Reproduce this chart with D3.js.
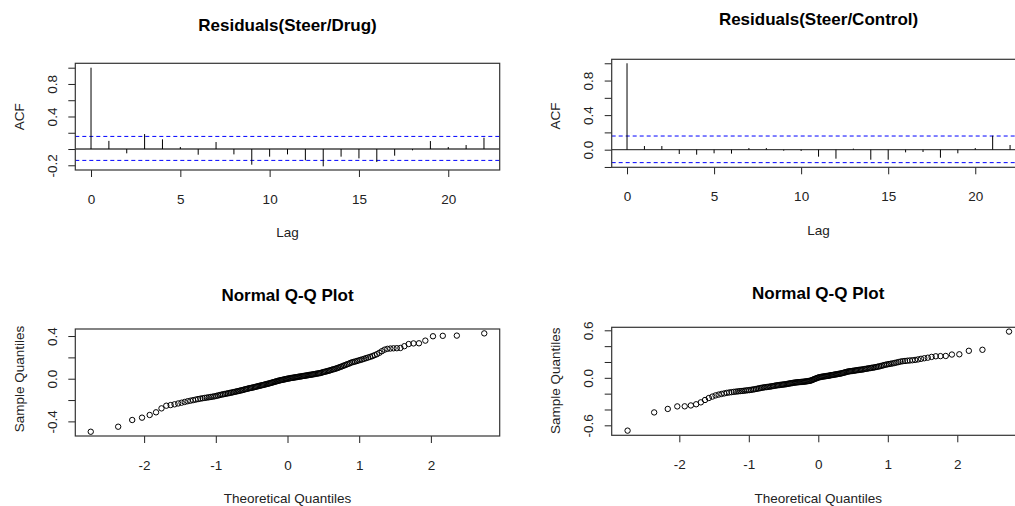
<!DOCTYPE html>
<html>
<head>
<meta charset="utf-8">
<script src="https://cdn.jsdelivr.net/npm/d3@7"></script>
<style>
  body { margin: 0; background: #fff; }
  svg { display: block; font-family: "Liberation Sans", Arial, sans-serif; }
</style>
</head>
<body>
<div id="canvas"></div>
<script>
// ACF values by lag (lag = index)
var acfDrug = [1.0, 0.10, -0.053, 0.184, 0.119, 0.025, -0.07, 0.086, -0.066, -0.193, -0.094, -0.066,
  -0.139, -0.213, -0.094, -0.115, -0.16, -0.082, -0.016, 0.098, 0.025, 0.049, 0.139]
var acfControl = [1.0, 0.042, 0.042, -0.05, -0.058, -0.042, -0.046, 0.019, 0.019, -0.012, -0.015, -0.081,
  -0.104, 0.012, -0.116, -0.116, -0.031, -0.027, -0.093, -0.042, 0.019, 0.162, 0.054]
var ciDrug = [0.155, -0.14]
var ciControl = [0.158, -0.15]

// sorted residuals (sample quantiles)
var qqDrug = [-0.497,-0.45,-0.387,-0.365,-0.34,-0.315,-0.278,-0.253,-0.247,-0.240,
  -0.232,-0.225,-0.218,-0.211,-0.206,-0.201,-0.196,-0.191,-0.187,-0.183,
  -0.180,-0.177,-0.174,-0.171,-0.168,-0.165,-0.161,-0.157,-0.153,-0.149,
  -0.146,-0.143,-0.140,-0.137,-0.134,-0.131,-0.128,-0.125,-0.122,-0.119,
  -0.116,-0.113,-0.110,-0.107,-0.104,-0.100,-0.097,-0.094,-0.091,-0.088,
  -0.086,-0.083,-0.081,-0.078,-0.075,-0.072,-0.069,-0.067,-0.064,-0.061,
  -0.059,-0.056,-0.053,-0.050,-0.048,-0.045,-0.042,-0.039,-0.036,-0.033,
  -0.030,-0.027,-0.024,-0.021,-0.018,-0.016,-0.013,-0.011,-0.009,-0.007,
  -0.004,-0.002,0.000,
  0.002,0.004,0.006,0.008,0.009,0.011,0.013,0.014,0.016,0.018,
  0.020,0.021,0.023,0.025,0.027,0.028,0.030,0.032,0.034,0.036,
  0.037,0.039,0.041,0.043,0.045,0.047,0.049,0.051,0.053,0.056,
  0.060,0.063,0.066,0.069,0.072,0.075,0.079,0.083,0.087,0.090,
  0.094,0.098,0.103,0.108,0.113,0.118,0.124,0.129,0.135,0.140,
  0.147,0.153,0.157,0.161,0.166,0.171,0.176,0.181,0.187,0.193,
  0.199,0.205,0.212,0.221,0.230,0.243,0.258,0.272,0.280,0.283,
  0.285,0.286,0.288,0.305,0.325,0.331,0.332,0.357,0.398,0.402,
  0.404,0.425]
var qqControl = [-0.667,-0.437,-0.393,-0.361,-0.360,-0.349,-0.334,-0.310,-0.280,-0.255,
  -0.237,-0.222,-0.212,-0.204,-0.197,-0.190,-0.185,-0.181,-0.177,-0.174,
  -0.171,-0.168,-0.166,-0.163,-0.160,-0.157,-0.155,-0.152,-0.148,-0.145,
  -0.141,-0.137,-0.133,-0.129,-0.125,-0.122,-0.119,-0.117,-0.115,-0.112,
  -0.110,-0.107,-0.104,-0.101,-0.098,-0.095,-0.093,-0.091,-0.089,-0.087,
  -0.085,-0.083,-0.081,-0.079,-0.076,-0.073,-0.070,-0.068,-0.066,-0.063,
  -0.061,-0.059,-0.057,-0.056,-0.055,-0.053,-0.052,-0.051,-0.050,-0.048,
  -0.046,-0.044,-0.042,-0.040,-0.038,-0.034,-0.029,-0.023,-0.017,-0.012,
  -0.007,-0.002,0.004,
  0.007,0.010,0.012,0.015,0.017,0.019,0.021,0.023,0.025,0.027,
  0.030,0.033,0.035,0.037,0.040,0.042,0.045,0.047,0.050,0.052,
  0.055,0.058,0.062,0.066,0.070,0.074,0.078,0.081,0.083,0.085,
  0.087,0.089,0.091,0.094,0.097,0.099,0.101,0.103,0.105,0.108,
  0.111,0.114,0.117,0.120,0.123,0.126,0.129,0.132,0.136,0.140,
  0.144,0.149,0.154,0.160,0.165,0.170,0.174,0.178,0.182,0.187,
  0.193,0.199,0.205,0.210,0.213,0.216,0.219,0.222,0.226,0.232,
  0.240,0.247,0.254,0.264,0.272,0.274,0.276,0.294,0.297,0.341,
  0.354,0.584]

// tick labels
var lagTicks = [0, 5, 10, 15, 20]
var qqXTicks = [-2, -1, 0, 1, 2]
var acfYTicks = [-0.2, 0, 0.2, 0.4, 0.6, 0.8, 1.0]
var acfDrugLabels = [-0.2, 0.4, 0.8]
var acfControlLabels = [0, 0.4, 0.8]
var qqDrugYTicks = [-0.4, -0.2, 0, 0.2, 0.4]
var qqDrugLabels = [-0.4, 0, 0.4]
var qqControlYTicks = [-0.6, -0.4, -0.2, 0, 0.2, 0.4, 0.6]
var qqControlLabels = [-0.6, 0, 0.6]

// normal quantile function (Acklam) for the theoretical quantiles of qqnorm
function qnorm(p) {
  var a = [-3.969683028665376e+01, 2.209460984245205e+02, -2.759285104469687e+02, 1.383577518672690e+02, -3.066479806614716e+01, 2.506628277459239e+00],
    b = [-5.447609879822406e+01, 1.615858368580409e+02, -1.556989798598866e+02, 6.680131188771972e+01, -1.328068155288572e+01],
    c = [-7.784894002430293e-03, -3.223964580411365e-01, -2.400758277161838e+00, -2.549732539343734e+00, 4.374664141464968e+00, 2.938163982698783e+00],
    d = [7.784695709041462e-03, 3.224671290700398e-01, 2.445134137142996e+00, 3.754408661907416e+00]
  var q, r
  if (p < 0.02425) {
    q = Math.sqrt(-2 * Math.log(p))
    return (((((c[0]*q+c[1])*q+c[2])*q+c[3])*q+c[4])*q+c[5]) / ((((d[0]*q+d[1])*q+d[2])*q+d[3])*q+1)
  }
  if (p > 1 - 0.02425) {
    q = Math.sqrt(-2 * Math.log(1 - p))
    return -(((((c[0]*q+c[1])*q+c[2])*q+c[3])*q+c[4])*q+c[5]) / ((((d[0]*q+d[1])*q+d[2])*q+d[3])*q+1)
  }
  q = p - 0.5; r = q * q
  return (((((a[0]*r+a[1])*r+a[2])*r+a[3])*r+a[4])*r+a[5])*q / (((((b[0]*r+b[1])*r+b[2])*r+b[3])*r+b[4])*r+1)
}

function qqPoints(values) {
  var n = values.length
  return values.map((v, i) => ({x: qnorm((i + 0.5) / n), y: v}))
}

var W = 1015, H = 506
var FONT = '"Liberation Sans", Arial, sans-serif'
var svg = d3.select('#canvas')
  .append('svg')
    .attr('width', W)
    .attr('height', H)
svg.append('rect').attr('width', W).attr('height', H).attr('fill', '#fff')

// R style labels: plain hyphen minus
var fmtY = d => (Math.abs(d) < 1e-9 ? 0 : d).toFixed(1)
var fmtX = d => String(d)

function panel(cfg) {
  var g = svg.append('g')
  var x = d3.scaleLinear().domain(cfg.xDomain).range([cfg.x0, cfg.x1])
  var y = d3.scaleLinear().domain(cfg.yDomain).range([cfg.y1, cfg.y0])

  // title
  g.append('text')
    .attr('x', (cfg.x0 + cfg.x1) / 2)
    .attr('y', cfg.titleY)
    .attr('dy', '0.35em')
    .attr('text-anchor', 'middle')
    .attr('font-weight', 'bold')
    .attr('font-size', '17px')
    .attr('fill', '#000')
    .text(cfg.title)

  // x axis
  var xa = g.append('g')
    .attr('transform', 'translate(0,' + cfg.y1 + ')')
    .call(d3.axisBottom(x).tickValues(cfg.xTicks).tickSize(7).tickFormat(fmtX))
  xa.attr('font-family', FONT)
  xa.select('.domain').remove()
  xa.selectAll('line').attr('stroke', '#222')
  xa.selectAll('text').attr('font-size', '13.5px').attr('fill', '#222').attr('y', 29).attr('dy', '0.35em')

  // y axis
  var ya = g.append('g')
    .attr('transform', 'translate(' + cfg.x0 + ',0)')
    .call(d3.axisLeft(y).tickValues(cfg.yTicks).tickSize(7).tickFormat(d => cfg.yLabels.some(l => Math.abs(l - d) < 1e-9) ? fmtY(d) : ''))
  ya.attr('font-family', FONT)
  ya.select('.domain').remove()
  ya.selectAll('line').attr('stroke', '#222')
  ya.selectAll('text')
    .attr('font-size', '13.5px')
    .attr('fill', '#222')
    .attr('x', 0)
    .attr('dy', '0.35em')
    .attr('text-anchor', 'middle')
    .attr('transform', 'translate(-23,0) rotate(-90)')

  // axis titles
  g.append('text')
    .attr('x', (cfg.x0 + cfg.x1) / 2)
    .attr('y', cfg.y1 + 62.5)
    .attr('dy', '0.35em')
    .attr('text-anchor', 'middle')
    .attr('font-size', '13.5px')
    .attr('fill', '#222')
    .text(cfg.xTitle)
  g.append('text')
    .attr('transform', 'translate(' + (cfg.x0 - 56) + ',' + cfg.yTitleY + ') rotate(-90)')
    .attr('dy', '0.35em')
    .attr('text-anchor', 'middle')
    .attr('font-size', '13.5px')
    .attr('fill', '#222')
    .text(cfg.yTitle)

  return {g: g, x: x, y: y}
}

function box(p, cfg) {
  p.g.append('rect')
    .attr('x', cfg.x0)
    .attr('y', cfg.y0)
    .attr('width', cfg.x1 - cfg.x0)
    .attr('height', cfg.y1 - cfg.y0)
    .attr('fill', 'none')
    .attr('stroke', '#333')
    .attr('stroke-width', 1.2)
}

function acfPanel(cfg, values, ci) {
  var p = panel(cfg)
  var clip = 'clip' + Math.round(cfg.x0)
  p.g.append('clipPath').attr('id', clip)
    .append('rect').attr('x', cfg.x0).attr('y', cfg.y0).attr('width', cfg.x1 - cfg.x0).attr('height', cfg.y1 - cfg.y0)
  var inner = p.g.append('g').attr('clip-path', 'url(#' + clip + ')')

  inner.selectAll('line.ci')
    .data(ci)
      .enter()
    .append('line')
      .attr('class', 'ci')
      .attr('x1', cfg.x0).attr('x2', cfg.x1)
      .attr('y1', d => p.y(d)).attr('y2', d => p.y(d))
      .attr('stroke', '#0000ff')
      .attr('stroke-width', 1)
      .attr('stroke-dasharray', '4,3')

  inner.append('line')
    .attr('x1', cfg.x0).attr('x2', cfg.x1)
    .attr('y1', p.y(0)).attr('y2', p.y(0))
    .attr('stroke', '#444')
    .attr('stroke-width', 1.3)

  inner.selectAll('line.bar')
    .data(values)
      .enter()
    .append('line')
      .attr('class', 'bar')
      .attr('x1', (d, i) => p.x(i)).attr('x2', (d, i) => p.x(i))
      .attr('y1', p.y(0)).attr('y2', d => p.y(d))
      .attr('stroke', '#000')
      .attr('stroke-width', 1)

  box(p, cfg)
}

function qqPanel(cfg, values) {
  var p = panel(cfg)
  p.g.selectAll('circle')
    .data(qqPoints(values))
      .enter()
    .append('circle')
      .attr('cx', d => p.x(d.x))
      .attr('cy', d => p.y(d.y))
      .attr('r', 2.7)
      .attr('fill', 'none')
      .attr('stroke', '#000')
      .attr('stroke-width', 1)
  box(p, cfg)
}

acfPanel({
  title: 'Residuals(Steer/Drug)', titleY: 25,
  x0: 75.3, x1: 499.7, y0: 63.3, y1: 170,
  xDomain: [-0.88, 22.88], yDomain: [-0.258, 1.054],
  xTicks: lagTicks, yTicks: acfYTicks, yLabels: acfDrugLabels,
  xTitle: 'Lag', yTitle: 'ACF', yTitleY: 116.7
}, acfDrug, ciDrug)

acfPanel({
  title: 'Residuals(Steer/Control)', titleY: 19,
  x0: 611.7, x1: 1025.4, y0: 59.3, y1: 167.3,
  xDomain: [-0.88, 22.88], yDomain: [-0.204, 1.046],
  xTicks: lagTicks, yTicks: acfYTicks, yLabels: acfControlLabels,
  xTitle: 'Lag', yTitle: 'ACF', yTitleY: 116
}, acfControl, ciControl)

qqPanel({
  title: 'Normal Q-Q Plot', titleY: 295,
  x0: 75.3, x1: 499.7, y0: 329, y1: 436,
  xDomain: [-2.96, 2.96], yDomain: [-0.537, 0.466],
  xTicks: qqXTicks, yTicks: qqDrugYTicks, yLabels: qqDrugLabels,
  xTitle: 'Theoretical Quantiles', yTitle: 'Sample Quantiles', yTitleY: 379
}, qqDrug)

qqPanel({
  title: 'Normal Q-Q Plot', titleY: 293,
  x0: 611.7, x1: 1024.7, y0: 327.3, y1: 435.3,
  xDomain: [-2.973, 2.97], yDomain: [-0.726, 0.638],
  xTicks: qqXTicks, yTicks: qqControlYTicks, yLabels: qqControlLabels,
  xTitle: 'Theoretical Quantiles', yTitle: 'Sample Quantiles', yTitleY: 380.7
}, qqControl)
</script>
</body>
</html>
